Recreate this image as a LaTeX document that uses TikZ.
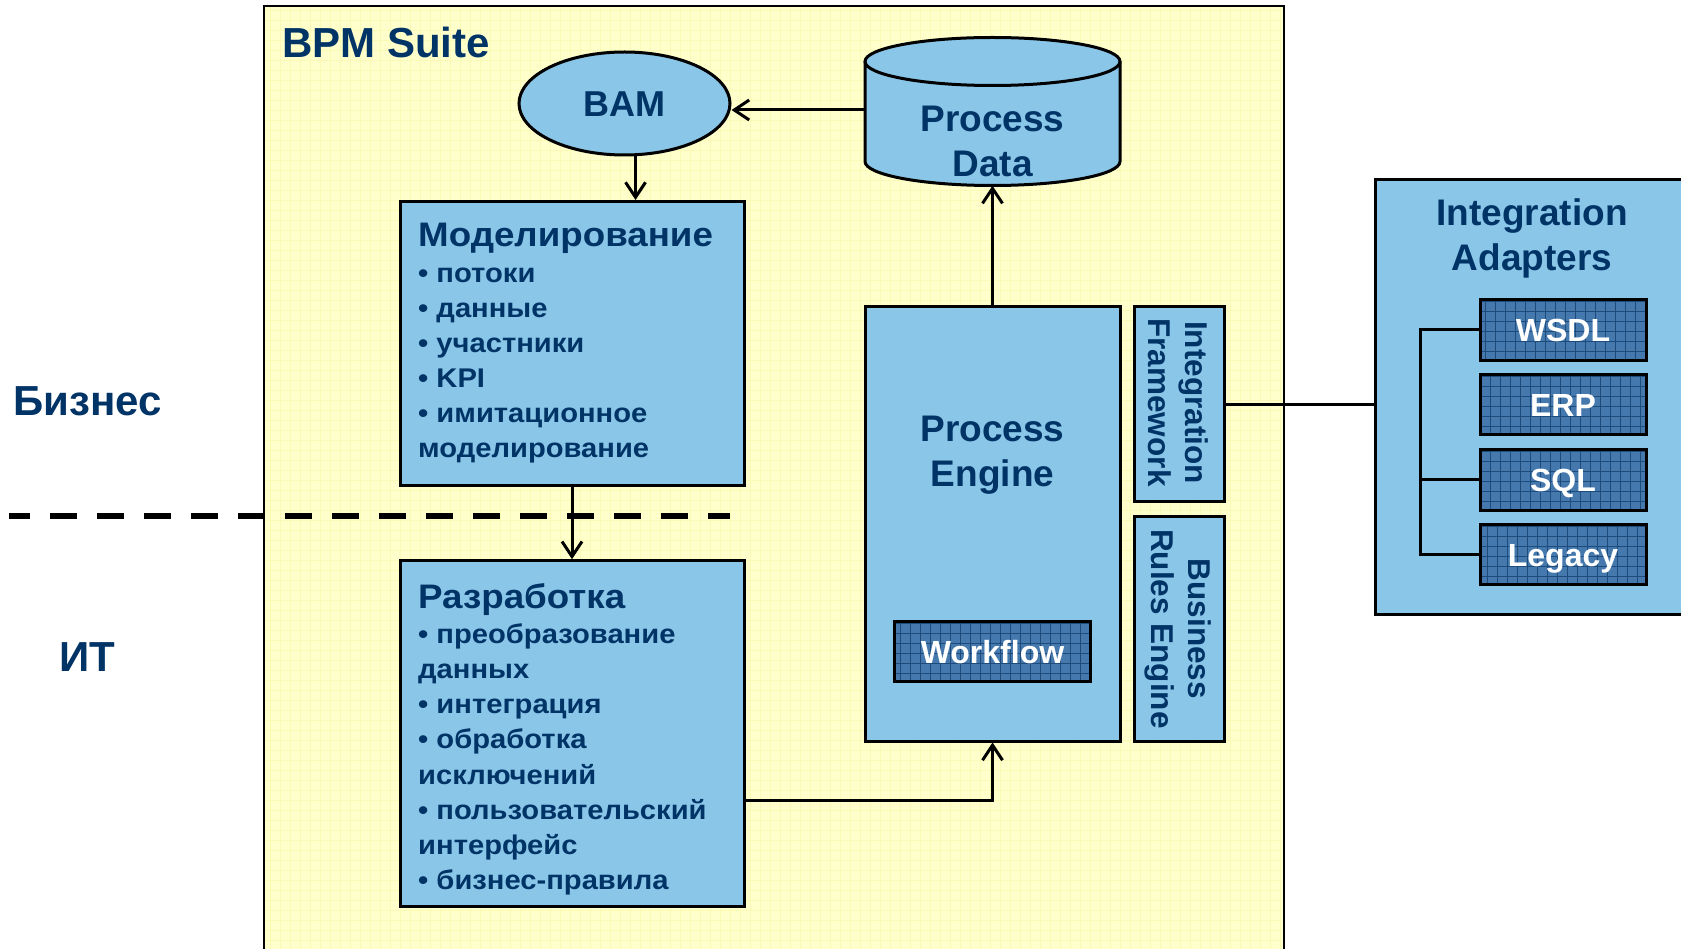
\documentclass[tikz,border=0pt]{standalone}
\usepackage{fontspec}
\setmainfont{Liberation Sans}
\newfontfamily\cyrs{Liberation Sans}[FakeStretch=1.08]
\usetikzlibrary{arrows.meta,shapes.geometric}
\definecolor{navy}{HTML}{003366}
\definecolor{lblue}{HTML}{8AC6E8}
\definecolor{pyellow}{HTML}{FFFFCC}
\definecolor{gyellow}{HTML}{FAFAB6}
\definecolor{dblue}{HTML}{4579AE}
\definecolor{gblue}{HTML}{1D4B7C}
\begin{document}
\begin{tikzpicture}[x=1pt,y=1pt,
  bd/.style={draw=black,line width=3pt},
  box/.style={bd,fill=lblue,inner sep=0pt,rectangle},
  dbox/.style={bd,fill=dblue,inner sep=0pt,text=white,
    font=\bfseries\fontsize{32}{36}\selectfont,
    minimum width=166pt,minimum height=60.7pt,text height=23pt,text depth=0pt,
    path picture={\draw[gblue,line width=0.9pt,step=10]
      (path picture bounding box.south west) grid (path picture bounding box.north east);}},
  ttl/.style={text=navy,font=\bfseries\fontsize{37}{45}\selectfont,align=center,inner sep=0pt},
  rot/.style={text=navy,font=\bfseries\fontsize{31.5}{37}\selectfont,align=center,inner sep=0pt,rotate=-90},
  lst/.style={text=navy,font=\cyrs\bfseries\fontsize{27}{35.1}\selectfont,align=left,inner sep=0pt,anchor=north west},
  lbl/.style={text=navy,font=\bfseries\fontsize{42}{46}\selectfont,inner sep=0pt,anchor=base west},
  arr/.style={line width=3pt,-{Straight Barb[length=15pt,width=20pt,line width=3pt]}},
  ln/.style={line width=3pt}
]
\useasboundingbox (0,0) rectangle (1681,-949);
\clip (0,0) rectangle (1681,-949);
\fill[white] (0,0) rectangle (1681,-949);

% BPM Suite background
\path[draw=black,line width=2.5pt,fill=pyellow,
  path picture={\draw[gyellow,line width=0.7pt,step=10]
    (path picture bounding box.south west) grid (path picture bounding box.north east);}]
  (264,-6) rectangle (1284,-960);
\node[lbl] (bpm) at (282,-57.5) {BPM Suite};

% side labels
\node[lbl] (biz) at (13,-415) {Бизнес};
\node[lbl] (it) at (59,-671.7) {ИТ};

% divider
\coordinate (dl) at (9,-516.3);
\coordinate (dr) at (729.5,-516.3);
\draw[line width=6pt,dash pattern=on 27pt off 20pt,dash phase=6pt] (dl) -- (dr);

% BAM
\node[ellipse,bd,fill=lblue,minimum width=211pt,minimum height=103pt,inner sep=0pt,
  text=navy,font=\bfseries\fontsize{36}{40}\selectfont,text height=25.8pt,text depth=0pt]
  (bam) at (624.5,-103.5) {BAM};

% Process Data cylinder
\fill[lblue] (865,-61.5) -- (865,-161.5)
  arc[start angle=180,end angle=360,x radius=127.5,y radius=24] -- (1120,-61.5)
  arc[start angle=0,end angle=180,x radius=127.5,y radius=24] -- cycle;
\draw[bd] (865,-61.5) -- (865,-161.5)
  arc[start angle=180,end angle=360,x radius=127.5,y radius=24] -- (1120,-61.5);
\draw[bd] (992.5,-61.5) ellipse[x radius=127.5,y radius=24];
\node[minimum width=255pt,minimum height=148pt,inner sep=0pt] (pd) at (992.5,-111.5) {};
\node[ttl] (pdt) at (992.5,-141.5) {Process\\Data};

% Modelling
\node[box,minimum width=344pt,minimum height=284pt] (mod) at (572,-343.5) {};
\node[lst] (modt) at (418,-218.7) {{\fontsize{34}{35.1}\selectfont\rule{0pt}{28pt}Моделирование}\\• потоки\\• данные\\• участники\\• KPI\\• имитационное\\моделирование};

% Development
\node[box,minimum width=344pt,minimum height=345.3pt] (razr) at (572,-733.35) {};
\node[lst] (razrt) at (418,-580.3) {{\fontsize{34}{35.1}\selectfont\rule{0pt}{28pt}Разработка}\\• преобразование\\данных\\• интеграция\\• обработка\\исключений\\• пользовательский\\интерфейс\\• бизнес-правила};

% Process Engine
\node[box,minimum width=255pt,minimum height=434.4pt] (pe) at (992.5,-523.8) {};
\node[ttl] (pet) at (992.5,-455.2) {Process\\Engine};
\node[dbox,minimum width=196pt,minimum height=60pt] (wf) at (992.5,-651.7) {Workflow};

% Integration Framework / Business Rules Engine
\node[box,minimum width=90pt,minimum height=194.5pt] (ifw) at (1179.5,-404) {};
\node[rot] (ifwt) at (1178.5,-402.5) {Integration\\Framework};
\node[box,minimum width=90pt,minimum height=225.3pt] (bre) at (1179.5,-629.3) {};
\node[rot] (bret) at (1178.5,-629) {Business\\Rules Engine};

% Integration Adapters
\node[box,minimum width=325pt,minimum height=435pt] (ia) at (1537.5,-396.8) {};
\node[ttl] (iat) at (1532,-238.7) {Integration\\Adapters};
\node[dbox] (wsdl) at (1563,-329.7) {WSDL};
\node[dbox] (erp) at (1563,-404.5) {ERP};
\node[dbox] (sql) at (1563,-479.7) {SQL};
\node[dbox] (leg) at (1563,-554.5) {Legacy};
\coordinate (br) at (1420,-400);
\draw[ln] (wsdl.west) -- (wsdl.west -| br) -- (leg.west -| br) -- (leg.west);
\draw[ln] (sql.west -| br) -- (sql.west);

% connectors
\draw[arr] ([yshift=1.5pt]pd.west) -- ([yshift=1.5pt]pd.west -| bam.east);
\draw[arr] ([xshift=11pt]bam.south) -- ([xshift=11pt]bam.south |- mod.north);
\draw[arr] (mod.south) -- (razr.north);
\draw[arr] (pe.north) -- (pd.south);
\draw[arr] ([yshift=-67.6pt]razr.east) -| (pe.south);
\draw[ln] (ifw.east) -- (ifw.east -| ia.west);
\end{tikzpicture}
\end{document}
